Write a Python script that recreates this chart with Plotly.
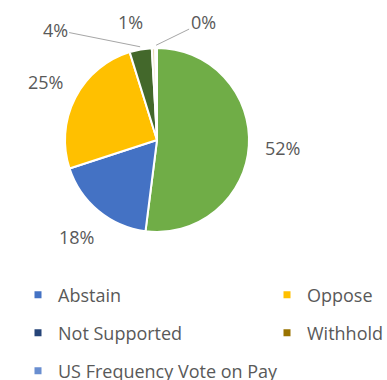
import math
import plotly.graph_objects as go

W, H = 387, 380

# Vote outcome shares (percent)
slice_labels = ["For", "Abstain", "Oppose", "Split", "Other", "No Vote"]
slice_values = [52.0, 18.0, 25.2, 3.9, 0.6, 0.3]
slice_colors = ["#70AD47", "#4472C4", "#FFC000", "#43682B", "#E8D9B0", "#DEEBF7"]

# Legend entries
legend_labels = ["Abstain", "Oppose", "Not Supported", "Withhold", "US Frequency Vote on Pay"]
legend_colors = ["#4472C4", "#FFC000", "#264478", "#997300", "#698ED0"]

# Pie geometry in pixels
CX, CY, R = 157, 140, 92
LABEL_R = 126
TEXT_COLOR = "#595959"
FONT = "Open Sans"

fig = go.Figure()
fig.add_trace(go.Pie(
    labels=slice_labels,
    values=slice_values,
    sort=False,
    direction="clockwise",
    marker=dict(colors=slice_colors, line=dict(color="white", width=2)),
    textinfo="none",
    hoverinfo="label+percent",
    showlegend=False,
    domain=dict(x=[(CX - R) / W, (CX + R) / W], y=[1 - (CY + R) / H, 1 - (CY - R) / H]),
))

# Percentage labels; thin slices get call-outs (dx, dy in px, with leader line?)
callouts = {3: (-85, -17, True), 4: (-23, -23, False), 5: (47, -23, True)}
total = sum(slice_values)
cum = 0.0
for i, v in enumerate(slice_values):
    mid = (cum + v / 2) / total * 2 * math.pi
    cum += v
    text = f"{round(v / total * 100)}%"
    sx, sy = math.sin(mid), -math.cos(mid)
    font = dict(family=FONT, size=18, color=TEXT_COLOR)
    common = dict(xref="paper", yref="paper", text=text, font=font,
                  xanchor="center", yanchor="middle")
    if i in callouts:
        dx, dy, arrow = callouts[i]
        px, py = CX + R * 1.03 * sx, CY + R * 1.03 * sy
        if arrow:
            fig.add_annotation(x=px / W, y=1 - py / H, showarrow=True, ax=dx, ay=dy,
                               arrowhead=0, arrowwidth=1, arrowcolor="#A6A6A6", **common)
        else:
            fig.add_annotation(x=(px + dx) / W, y=1 - (py + dy) / H, showarrow=False, **common)
    else:
        px, py = CX + LABEL_R * sx, CY + LABEL_R * sy
        fig.add_annotation(x=px / W, y=1 - py / H, showarrow=False, **common)

# Legend: two columns, three rows, each entry in its own legend box
col_text_x = [58, 307]
row_y = [295, 333, 371]
legend_layout = {}
for k, (lab, col) in enumerate(zip(legend_labels, legend_colors)):
    name = "legend" if k == 0 else f"legend{k + 1}"
    fig.add_trace(go.Scatter(
        x=[None], y=[None], mode="markers", name=lab,
        marker=dict(symbol="square", size=7, color=col),
        legend=name, hoverinfo="skip",
    ))
    cx = col_text_x[k % 2]
    ry = row_y[k // 2]
    legend_layout[name] = dict(
        x=(cx - 40) / W, y=1 - ry / H, xanchor="left", yanchor="middle",
        bgcolor="rgba(0,0,0,0)", borderwidth=0,
        font=dict(family=FONT, size=18, color=TEXT_COLOR),
    )

fig.update_layout(
    width=W, height=H,
    margin=dict(l=0, r=0, t=0, b=0, autoexpand=False),
    paper_bgcolor="white", plot_bgcolor="white",
    showlegend=True,
    xaxis=dict(visible=False), yaxis=dict(visible=False),
    **legend_layout,
)

fig.write_html("out.html")
